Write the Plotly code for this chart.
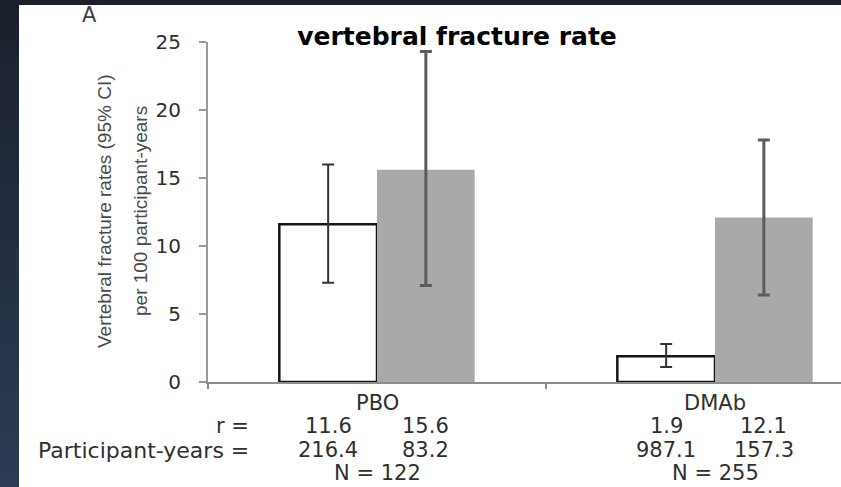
import plotly.graph_objects as go

# ---- data -----------------------------------------------------------------
categories = ["PBO", "DMAb"]

rate_open = [11.6, 1.9]            # open bars
ci_low_open = [7.3, 1.1]
ci_high_open = [16.0, 2.8]

rate_grey = [15.6, 12.1]           # grey bars
ci_low_grey = [7.1, 6.4]
ci_high_grey = [24.3, 17.8]

pyears_open = [216.4, 987.1]
pyears_grey = [83.2, 157.3]
n_total = [122, 255]

y_ticks = [0, 5, 10, 15, 20, 25]

# ---- geometry helpers ---------------------------------------------------------
W, H = 841, 487
M_L, M_R, M_T, M_B = 208, 0, 42, 105
PW = W - M_L - M_R
PH = H - M_T - M_B


def xp(px):
    return (px - M_L) / PW


def yp(py):
    return (H - M_B - py) / PH


BARGAP = 0.422
OFFSET = (1 - BARGAP) / 4          # distance from group centre to bar centre

BODY_FONT = "DejaVu Sans"
TEXT_GREY = "#2f2f2f"

fig = go.Figure()

fig.add_trace(go.Bar(
    x=categories, y=rate_open,
    marker=dict(color="white", line=dict(color="#151515", width=2.5)),
    error_y=dict(type="data", symmetric=False,
                 array=[h - v for h, v in zip(ci_high_open, rate_open)],
                 arrayminus=[v - l for v, l in zip(rate_open, ci_low_open)],
                 color="#333333", thickness=2, width=6),
    hoverinfo="skip",
))
fig.add_trace(go.Bar(
    x=categories, y=rate_grey,
    marker=dict(color="#a9a9a9", line=dict(width=0)),
    error_y=dict(type="data", symmetric=False,
                 array=[h - v for h, v in zip(ci_high_grey, rate_grey)],
                 arrayminus=[v - l for v, l in zip(rate_grey, ci_low_grey)],
                 color="#5c5c5c", thickness=3, width=6),
    hoverinfo="skip",
))

# ---- slide background: dark frame with white panel ------------------------------
shapes = [dict(type="rect", xref="paper", yref="paper",
               x0=xp(19), x1=xp(W), y0=yp(H), y1=yp(5),
               fillcolor="white", line=dict(width=0), layer="below")]

top_rgb = (0x1a, 0x20, 0x2c)
bot_rgb = (0x2c, 0x3c, 0x54)
n_steps = 24
for i in range(n_steps):
    t = (i + 0.5) / n_steps
    r, g, b = (int(round(a + (c - a) * t)) for a, c in zip(top_rgb, bot_rgb))
    y0 = H * i / n_steps
    y1 = H * (i + 1) / n_steps
    shapes.append(dict(type="rect", xref="paper", yref="paper",
                       x0=xp(0), x1=xp(19), y0=yp(y1 + 0.5), y1=yp(y0),
                       fillcolor=f"rgb({r},{g},{b})", line=dict(width=0),
                       layer="below"))
shapes.append(dict(type="rect", xref="paper", yref="paper",
                   x0=xp(19), x1=xp(W), y0=yp(5), y1=yp(0),
                   fillcolor="#1a1f2b", line=dict(width=0), layer="below"))

# ---- table under the axis -----------------------------------------------------
annotations = []
row_cat, row_r, row_py, row_n = 403, 426, 450, 473


def add_text(text, x, y_px, xref="x", xanchor="center", size=21,
             color=TEXT_GREY, family=BODY_FONT, **kw):
    annotations.append(dict(text=text, x=x, y=yp(y_px), xref=xref, yref="paper",
                            xanchor=xanchor, yanchor="middle", showarrow=False,
                            font=dict(family=family, size=size, color=color), **kw))


for i, cat in enumerate(categories):
    add_text(cat, i, row_cat)
    add_text(f"{rate_open[i]:.1f}", i - OFFSET, row_r)
    add_text(f"{rate_grey[i]:.1f}", i + OFFSET, row_r)
    add_text(f"{pyears_open[i]:.1f}", i - OFFSET, row_py)
    add_text(f"{pyears_grey[i]:.1f}", i + OFFSET, row_py)
    add_text(f"N = {n_total[i]}", i, row_n)

add_text("r =", xp(251), row_r, xref="paper", xanchor="right")
add_text("Participant-years =", xp(251), row_py, xref="paper", xanchor="right",
         size=22)
add_text("A", xp(89), 15, xref="paper", size=21, color="#404040")

# y-axis title, two rotated lines
add_text("Vertebral fracture rates (95% CI)", xp(104), 211, xref="paper",
         size=19, color="#4a4a4a", family="Liberation Sans", textangle=-90)
add_text("per 100 participant-years", xp(140), 211, xref="paper",
         size=19, color="#4a4a4a", family="Liberation Sans", textangle=-90)

fig.update_layout(
    width=W, height=H,
    margin=dict(l=M_L, r=M_R, t=M_T, b=M_B, pad=0),
    paper_bgcolor="#1a1f2b",
    plot_bgcolor="white",
    barmode="group", bargap=BARGAP, bargroupgap=0,
    showlegend=False,
    title=dict(text="<b>vertebral fracture rate</b>",
               x=xp(457), xref="paper", xanchor="center",
               y=1 - 36 / H, yref="container", yanchor="middle",
               font=dict(family="DejaVu Sans", size=25, color="black")),
    shapes=shapes,
    annotations=annotations,
    xaxis=dict(type="category", range=[-0.5, (W - M_L) / 338 - 0.5],
               showline=True, linecolor="#8c8c8c", linewidth=1.5,
               ticks="outside", tickson="boundaries", ticklen=5,
               tickcolor="#8c8c8c", tickwidth=1.5,
               showticklabels=False, showgrid=False, zeroline=False),
    yaxis=dict(range=[0, 25], tickvals=y_ticks,
               showline=True, linecolor="#9a9a9a", linewidth=2,
               ticks="outside", ticklen=7, tickwidth=2, tickcolor="#9a9a9a",
               ticklabelstandoff=14,
               tickfont=dict(family=BODY_FONT, size=20, color="#2e2e2e"),
               showgrid=False, zeroline=False),
)

fig.write_html("out.html")
